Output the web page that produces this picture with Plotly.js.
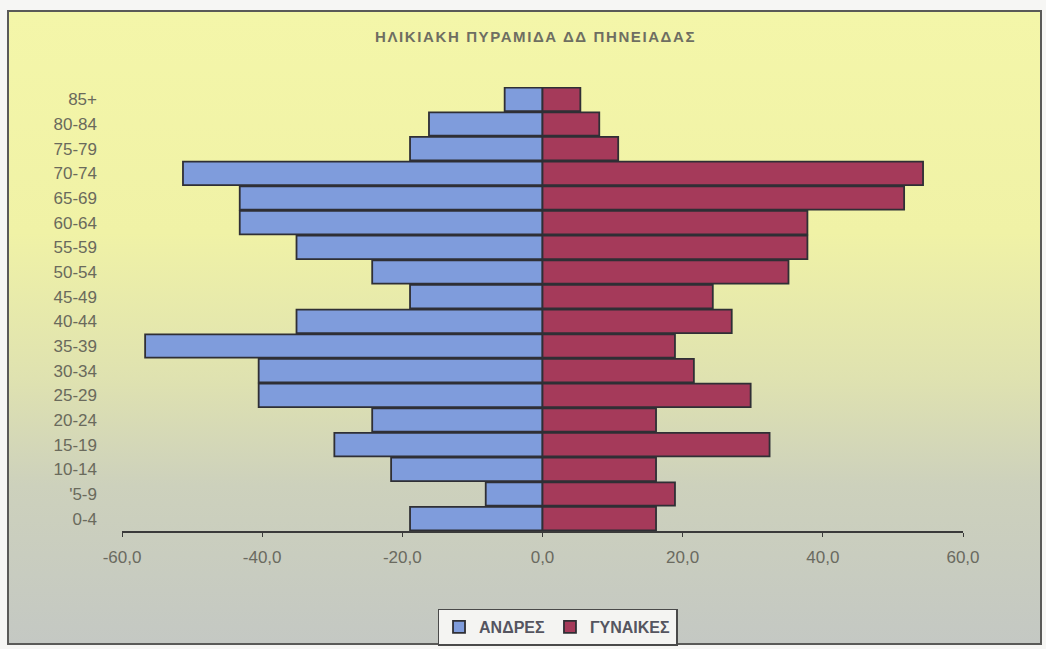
<!DOCTYPE html>
<html>
<head>
<meta charset="utf-8">
<script src="https://cdn.plot.ly/plotly-3.0.1.min.js"></script>
<style>
  html, body { margin: 0; padding: 0; background: #f6f6f4; }
  #frame {
    position: absolute; left: 7px; top: 10px; width: 1031px; height: 631px;
    border: 2px solid #5a5a58;
    background: linear-gradient(to bottom, #f4f6a9 0%, #f0f2a6 35%, #dfe2b0 58%, #cdd1bc 75%, #c4c8c3 100%);
  }
  #chart { position: absolute; left: 0; top: 0; width: 1046px; height: 649px; }
  #chart .gtitle { letter-spacing: 1.6px; }
</style>
</head>
<body>
<div id="frame"></div>
<div id="chart"></div>
<script>
// Age groups (bottom to top)
const ageGroups = ["0-4", "'5-9", "10-14", "15-19", "20-24", "25-29", "30-34", "35-39", "40-44",
                   "45-49", "50-54", "55-59", "60-64", "65-69", "70-74", "75-79", "80-84", "85+"];
// ΑΝΔΡΕΣ (shown to the left, as negative values)
const men =   [-18.9, -8.1, -21.6, -29.7, -24.3, -40.5, -40.5, -56.7, -35.1,
               -18.9, -24.3, -35.1, -43.2, -43.2, -51.3, -18.9, -16.2, -5.4];
// ΓΥΝΑΙΚΕΣ
const women = [16.2, 18.9, 16.2, 32.4, 16.2, 29.7, 21.6, 18.9, 27.0,
               24.3, 35.1, 37.8, 37.8, 51.6, 54.3, 10.8, 8.1, 5.4];
const xTicks = [-60, -40, -20, 0, 20, 40, 60];
const xTickText = xTicks.map(v => v.toFixed(1).replace('.', ','));

const traces = [
  { type: 'bar', orientation: 'h', name: 'ΑΝΔΡΕΣ', y: ageGroups, x: men,
    marker: { color: '#7f9cdc', line: { color: '#2f2f35', width: 1.8 } }, hoverinfo: 'x+y' },
  { type: 'bar', orientation: 'h', name: 'ΓΥΝΑΙΚΕΣ', y: ageGroups, x: women,
    marker: { color: '#a53a5a', line: { color: '#2f2f35', width: 1.8 } }, hoverinfo: 'x+y' }
];

const layout = {
  width: 1046, height: 649,
  paper_bgcolor: 'rgba(0,0,0,0)', plot_bgcolor: 'rgba(0,0,0,0)',
  margin: { l: 122, r: 83, t: 87, b: 118 },
  barmode: 'relative', bargap: 0.05,
  separators: ',.',
  font: { family: 'Liberation Sans, Arial, sans-serif', color: '#66665a' },
  title: { text: '<b>ΗΛΙΚΙΑΚΗ ΠΥΡΑΜΙΔΑ ΔΔ ΠΗΝΕΙΑΔΑΣ</b>', xref: 'container', x: 0.512, xanchor: 'center',
           yref: 'container', y: 1 - 37 / 649, yanchor: 'middle',
           font: { size: 15, color: '#6e6e62', family: 'Liberation Sans, Arial, sans-serif' } },
  xaxis: {
    range: [-60, 60], tickvals: xTicks, ticktext: xTickText,
    showgrid: false, zeroline: true, zerolinecolor: '#2f2f35', zerolinewidth: 1,
    showline: true, linecolor: '#3a3a3a', linewidth: 1.5,
    ticks: 'outside', ticklen: 4, tickcolor: '#3a3a3a', ticklabelstandoff: 6,
    tickfont: { size: 17, color: '#6a6a60' }, fixedrange: true
  },
  yaxis: {
    type: 'category', categoryorder: 'array', categoryarray: ageGroups,
    showgrid: false, zeroline: false, showline: false, ticks: '',
    ticklabelstandoff: 24,
    tickfont: { size: 17, color: '#6a6a5c' }, fixedrange: true
  },
  showlegend: true,
  legend: {
    orientation: 'h', xref: 'container', x: 0.533, xanchor: 'center',
    yref: 'container', y: 1 - 627 / 649, yanchor: 'middle',
    bgcolor: '#f4f4f2', bordercolor: '#4a4a4a', borderwidth: 1.5,
    font: { size: 16, color: '#555560', family: 'Liberation Sans, Arial, sans-serif', weight: 'bold' },
    itemwidth: 30, tracegroupgap: 0
  }
};

Plotly.newPlot('chart', traces, layout, { displayModeBar: false, staticPlot: true });
</script>
</body>
</html>
